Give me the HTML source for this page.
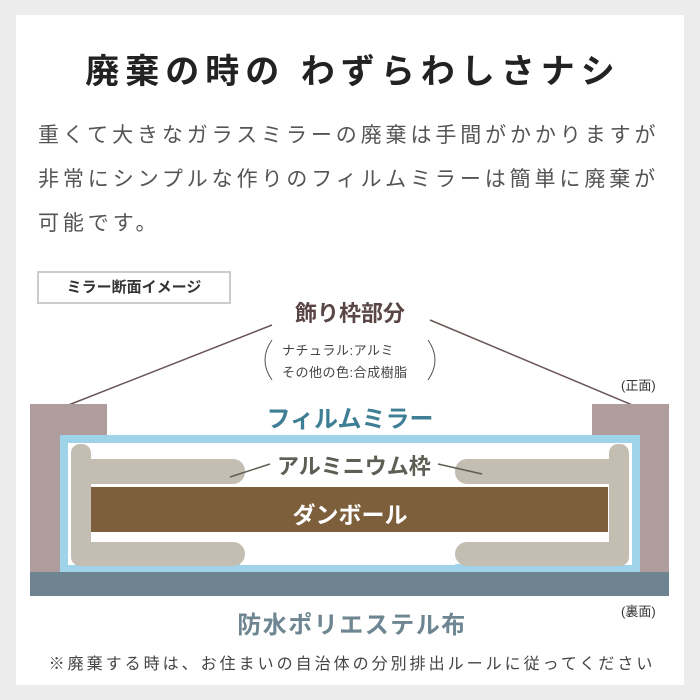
<!DOCTYPE html>
<html><head><meta charset="utf-8"><style>
body{margin:0;width:700px;height:700px;background:#ececec;font-family:"Liberation Sans","Noto Sans CJK JP",sans-serif;position:relative;overflow:hidden}
.p{position:absolute;left:16px;top:15px;width:668px;height:670px;background:#fff}
.a{position:absolute;white-space:nowrap}
</style></head><body>
<div class="p"></div>
<div class="a" style="left:3px;width:700px;text-align:center;top:44px;font-size:34px;font-weight:bold;color:#222;letter-spacing:6px">廃棄の時の わずらわしさナシ</div>
<div class="a" style="left:38px;top:114px;font-size:21px;color:#555;letter-spacing:3.9px;line-height:44px">重くて大きなガラスミラーの廃棄は手間がかかりますが<br>非常にシンプルな作りのフィルムミラーは簡単に廃棄が<br>可能です。</div>
<div class="a" style="left:37px;top:271px;width:190px;height:29px;border:2px solid #ccc;font-size:15px;font-weight:bold;color:#333;text-align:center;line-height:29px">ミラー断面イメージ</div>
<svg class="a" style="left:0;top:0" width="700" height="700">
<line x1="272" y1="325" x2="66" y2="406" stroke="#6b5555" stroke-width="1.5"/>
<line x1="430" y1="320" x2="637" y2="407" stroke="#6b5555" stroke-width="1.5"/>
<rect x="30" y="404" width="77" height="168" fill="#ae9d9c"/>
<rect x="592" y="404" width="77" height="168" fill="#ae9d9c"/>
<rect x="60" y="435" width="580" height="137" fill="#9fd3ea"/>
<rect x="68" y="443" width="564" height="122" fill="#fff"/>
<rect x="130" y="564" width="110" height="8" fill="#9fd3ea"/>
<rect x="455" y="564" width="115" height="8" fill="#9fd3ea"/>
<g fill="#c3bdb2">
<rect x="71" y="444" width="20" height="122" rx="9"/>
<rect x="71" y="459" width="174" height="25" rx="12"/>
<rect x="71" y="542" width="174" height="24" rx="12"/>
<rect x="609" y="444" width="20" height="122" rx="9"/>
<rect x="455" y="459" width="174" height="25" rx="12"/>
<rect x="455" y="542" width="174" height="24" rx="12"/>
</g>
<rect x="91" y="487" width="517" height="45" fill="#7d5f3b"/>
<rect x="30" y="572" width="639" height="24" fill="#6e8591"/>
<line x1="270" y1="464" x2="230" y2="477" stroke="#5e5e55" stroke-width="1.5"/>
<line x1="438" y1="464" x2="482" y2="474" stroke="#5e5e55" stroke-width="1.5"/>
<path d="M272 340 Q258 360 272 380" fill="none" stroke="#555" stroke-width="1"/>
<path d="M428 340 Q442 360 428 380" fill="none" stroke="#555" stroke-width="1"/>
</svg>
<div class="a" style="left:0;width:700px;text-align:center;top:296px;font-size:22px;font-weight:bold;color:#5a4646">飾り枠部分</div>
<div class="a" style="left:282px;top:340px;font-size:13px;color:#444;line-height:22px;letter-spacing:0.5px">ナチュラル:アルミ<br>その他の色:合成樹脂</div>
<div class="a" style="left:621px;top:375px;font-size:13px;color:#333">(正面)</div>
<div class="a" style="left:621px;top:601px;font-size:13px;color:#333">(裏面)</div>
<div class="a" style="left:0;width:700px;text-align:center;top:399px;font-size:24px;font-weight:bold;color:#3f7f95">フィルムミラー</div>
<div class="a" style="left:277px;top:449px;font-size:22px;font-weight:bold;color:#5e5e55">アルミニウム枠</div>
<div class="a" style="left:0;width:700px;text-align:center;top:496px;font-size:23px;font-weight:bold;color:#fff">ダンボール</div>
<div class="a" style="left:2px;width:700px;text-align:center;top:605px;font-size:24px;font-weight:bold;color:#6e8691;letter-spacing:1.5px">防水ポリエステル布</div>
<div class="a" style="left:2px;width:700px;text-align:center;top:650px;font-size:16px;color:#444;letter-spacing:3px">※廃棄する時は、お住まいの自治体の分別排出ルールに従ってください</div>
</body></html>
